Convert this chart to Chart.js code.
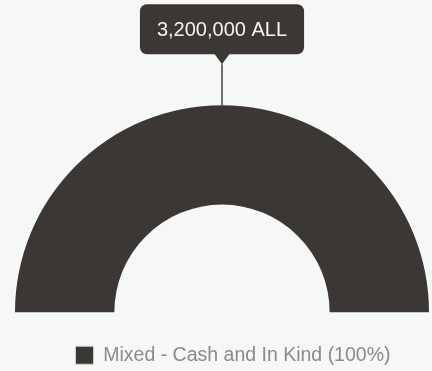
<!DOCTYPE html>
<html>
<head>
<meta charset="utf-8">
<script src="https://cdn.jsdelivr.net/npm/chart.js@4"></script>
<style>
  html, body { margin: 0; padding: 0; background: #f6f8f7; }
  #wrap { width: 432px; height: 371px; }
</style>
</head>
<body>
<div id="wrap"><canvas id="aidChart"></canvas></div>
<script>
// Data for the chart
const categories = ['Mixed - Cash and In Kind'];
const amounts = [3200000];
const currency = 'ALL';
const sliceColors = ['#3b3735'];

const total = amounts.reduce((a, b) => a + b, 0);

// Callout above the arc: box + caret + stem line
const calloutPlugin = {
  id: 'callout',
  afterLayout(chart) {
    // legend in the reference sits a bit right of centre
    chart.legend.left += 22;
  },
  afterDatasetsDraw(chart) {
    const arc = chart.getDatasetMeta(0).data[0];
    if (!arc) return;
    const p = arc.getProps(['x', 'y', 'startAngle', 'endAngle', 'outerRadius'], true);
    const mid = (p.startAngle + p.endAngle) / 2;
    const ax = p.x + Math.cos(mid) * p.outerRadius;
    const ay = p.y + Math.sin(mid) * p.outerRadius;
    const ctx = chart.ctx;
    const text = amounts[0].toLocaleString('en-US') + ' ' + currency;

    ctx.save();
    ctx.font = '20px "Liberation Sans", Arial, sans-serif';
    const w = ctx.measureText(text).width + 34;
    const h = 50;
    const tipY = ay - 41;
    const boxBottom = tipY - 10;
    const bx = ax - w / 2, by = boxBottom - h;

    // stem
    ctx.strokeStyle = '#726e6d';
    ctx.lineWidth = 2;
    ctx.beginPath();
    ctx.moveTo(ax, tipY);
    ctx.lineTo(ax, ay);
    ctx.stroke();

    // box
    ctx.fillStyle = '#3b3735';
    ctx.beginPath();
    ctx.roundRect(bx, by, w, h, 7);
    ctx.fill();
    // caret
    ctx.beginPath();
    ctx.moveTo(ax - 8, boxBottom - 1);
    ctx.lineTo(ax + 8, boxBottom - 1);
    ctx.lineTo(ax, tipY);
    ctx.closePath();
    ctx.fill();

    ctx.fillStyle = '#f2f2f2';
    ctx.textAlign = 'center';
    ctx.textBaseline = 'middle';
    ctx.fillText(text, ax, by + h / 2 + 1);
    ctx.restore();
  }
};

const ctx = document.getElementById('aidChart').getContext('2d');
const aidChart = new Chart(ctx, {
  type: 'doughnut',
  data: {
    labels: categories,
    datasets: [{
      data: amounts,
      backgroundColor: sliceColors,
      borderWidth: 0,
      hoverOffset: 0
    }]
  },
  options: {
    responsive: true,
    maintainAspectRatio: false,
    animation: false,
    rotation: -90,
    circumference: 180,
    cutout: '52%',
    layout: { padding: { top: 105, left: 15, right: 3, bottom: -4 } },
    plugins: {
      tooltip: { enabled: false },
      legend: {
        position: 'bottom',
        labels: {
          boxWidth: 18,
          boxHeight: 18,
          padding: 33,
          color: '#8a8a8a',
          font: { family: '"Liberation Sans", Arial, sans-serif', size: 19.5 },
          generateLabels: (chart) => categories.map((c, i) => ({
            text: c + ' (' + Math.round(amounts[i] / total * 100) + '%)',
            fillStyle: sliceColors[i],
            strokeStyle: '#cfcfcf',
            lineWidth: 1,
            fontColor: '#8a8a8a',
            index: i
          }))
        }
      }
    }
  },
  plugins: [calloutPlugin]
});
</script>
</body>
</html>
